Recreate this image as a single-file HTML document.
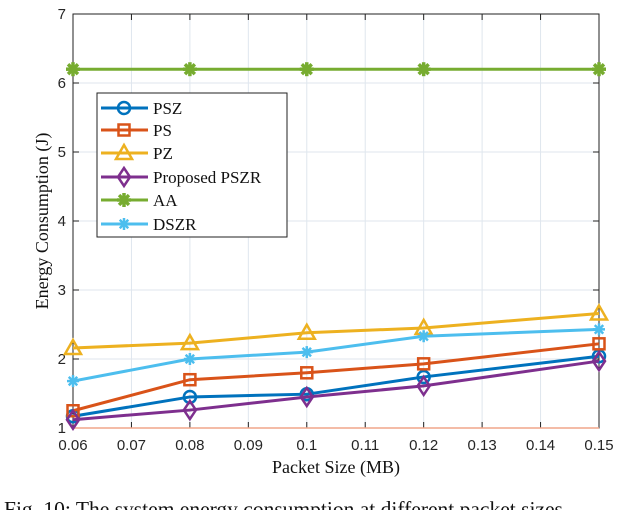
<!DOCTYPE html>
<html><head><meta charset="utf-8"><style>
body{margin:0;background:#fff;width:640px;height:510px;overflow:hidden}
svg{display:block}
.tk{font-family:"Liberation Sans",sans-serif;font-size:15px;fill:#262626}
.sf{font-family:"Liberation Serif",serif;fill:#111}
</style></head><body>
<svg id="chart" width="640" height="510"></svg>
<script>
const xValues=[0.06,0.08,0.1,0.12,0.15];
const seriesNames=["PSZ","PS","PZ","Proposed PSZR","AA","DSZR"];
const psz=[1.17,1.45,1.49,1.74,2.04];
const ps=[1.25,1.70,1.80,1.93,2.22];
const pz=[2.16,2.23,2.38,2.45,2.66];
const pszr=[1.12,1.26,1.45,1.61,1.97];
const aa=[6.2,6.2,6.2,6.2,6.2];
const dszr=[1.68,2.0,2.1,2.33,2.43];
const xTicks=[0.06,0.07,0.08,0.09,0.1,0.11,0.12,0.13,0.14,0.15];
const xTickLabels=["0.06","0.07","0.08","0.09","0.1","0.11","0.12","0.13","0.14","0.15"];
const yTicks=[1,2,3,4,5,6,7];

const NS="http://www.w3.org/2000/svg";
const svg=document.getElementById('chart');
const L=73,R=599,T=14,B=428;
const xs=v=>L+(v-0.06)/(0.15-0.06)*(R-L);
const ys=v=>B-(v-1)/6*(B-T);
function mk(tag,attrs,parent){const e=document.createElementNS(NS,tag);for(const k in attrs)e.setAttribute(k,attrs[k]);(parent||svg).appendChild(e);return e;}

const grid=mk('g',{});


xTicks.forEach((t,i)=>{
  mk('line',{x1:xs(t),x2:xs(t),y1:T,y2:B,stroke:'#dfe6ee','stroke-width':1},grid);
  mk('line',{x1:xs(t),x2:xs(t),y1:B,y2:B-6,stroke:'#222'},grid);
  mk('line',{x1:xs(t),x2:xs(t),y1:T,y2:T+6,stroke:'#222'},grid);
  const tx=mk('text',{x:xs(t),y:B+22,'text-anchor':'middle',class:'tk'});
  tx.textContent=xTickLabels[i];
  
  
});
yTicks.forEach(t=>{
  mk('line',{x1:L,x2:R,y1:ys(t),y2:ys(t),stroke:'#dfe6ee'},grid);
  mk('line',{x1:L,x2:L+6,y1:ys(t),y2:ys(t),stroke:'#222'},grid);
  mk('line',{x1:R,x2:R-6,y1:ys(t),y2:ys(t),stroke:'#222'},grid);
  const tx=mk('text',{x:L-7,y:ys(t)+5,'text-anchor':'end',class:'tk'});
  tx.textContent=t;
  
  
});
const box=mk('rect',{x:L,y:T,width:R-L,height:B-T,fill:'none',stroke:'#222','stroke-width':1});


mk('line',{x1:L,x2:R,y1:B,y2:B,stroke:'#f0a58a','stroke-width':1.5});

const colors=["#0072BD","#D95319","#EDB120","#7E2F8E","#77AC30","#4DBEEE"];
const markers=["circle","square","triangle","diamond","star","asterisk"];
const data=[psz,ps,pz,pszr,aa,dszr];
function marker(g,type,x,y,c){
  if(type==='circle')mk('circle',{cx:x,cy:y,r:6,fill:'none',stroke:c,'stroke-width':2.5},g);
  else if(type==='square')mk('rect',{x:x-5.5,y:y-5.5,width:11,height:11,fill:'none',stroke:c,'stroke-width':2.5},g);
  else if(type==='triangle')mk('polygon',{points:`${x},${y-8} ${x-8},${y+6} ${x+8},${y+6}`,fill:'none',stroke:c,'stroke-width':2.5},g);
  else if(type==='diamond')mk('polygon',{points:`${x},${y-9} ${x-6},${y} ${x},${y+9} ${x+6},${y}`,fill:'none',stroke:c,'stroke-width':2.5},g);
  else{
    const r=type==='star'?7:6;
    for(let a=0;a<4;a++){const an=a*Math.PI/4;mk('line',{x1:x-r*Math.cos(an),y1:y-r*Math.sin(an),x2:x+r*Math.cos(an),y2:y+r*Math.sin(an),stroke:c,'stroke-width':type==='star'?3.5:2.5},g);}
  }
}
data.forEach((arr,si)=>{
  const g=mk('g',{});
  
  
  const pts=arr.map((v,i)=>xs(xValues[i])+','+ys(v)).join(' ');
  mk('polyline',{points:pts,fill:'none',stroke:colors[si],'stroke-width':3},g);
  arr.forEach((v,i)=>marker(g,markers[si],xs(xValues[i]),ys(v),colors[si]));
});

const lg=mk('g',{});


mk('rect',{x:97,y:93,width:190,height:144,fill:'#fff',stroke:'#222'},lg);
const ly=[108,130,153,177,200,224];
seriesNames.forEach((n,i)=>{
  const e=mk('g',{},lg);
  
  
  mk('line',{x1:101,x2:148,y1:ly[i],y2:ly[i],stroke:colors[i],'stroke-width':3},e);
  marker(e,markers[i],124,ly[i],colors[i]);
  const t=mk('text',{x:153,y:ly[i]+6,class:'sf','font-size':17},e);
  t.textContent=n;
});

const yl=mk('text',{x:0,y:0,class:'sf','font-size':18,'text-anchor':'middle',transform:'translate(48,221) rotate(-90)'});
yl.textContent='Energy Consumption (J)';


const xl=mk('text',{x:336,y:473,class:'sf','font-size':18,'text-anchor':'middle'});
xl.textContent='Packet Size (MB)';


const cap=mk('text',{x:4,y:516,class:'sf','font-size':21.5});
cap.textContent='Fig. 10: The system energy consumption at different packet sizes.';


</script>
</body></html>
